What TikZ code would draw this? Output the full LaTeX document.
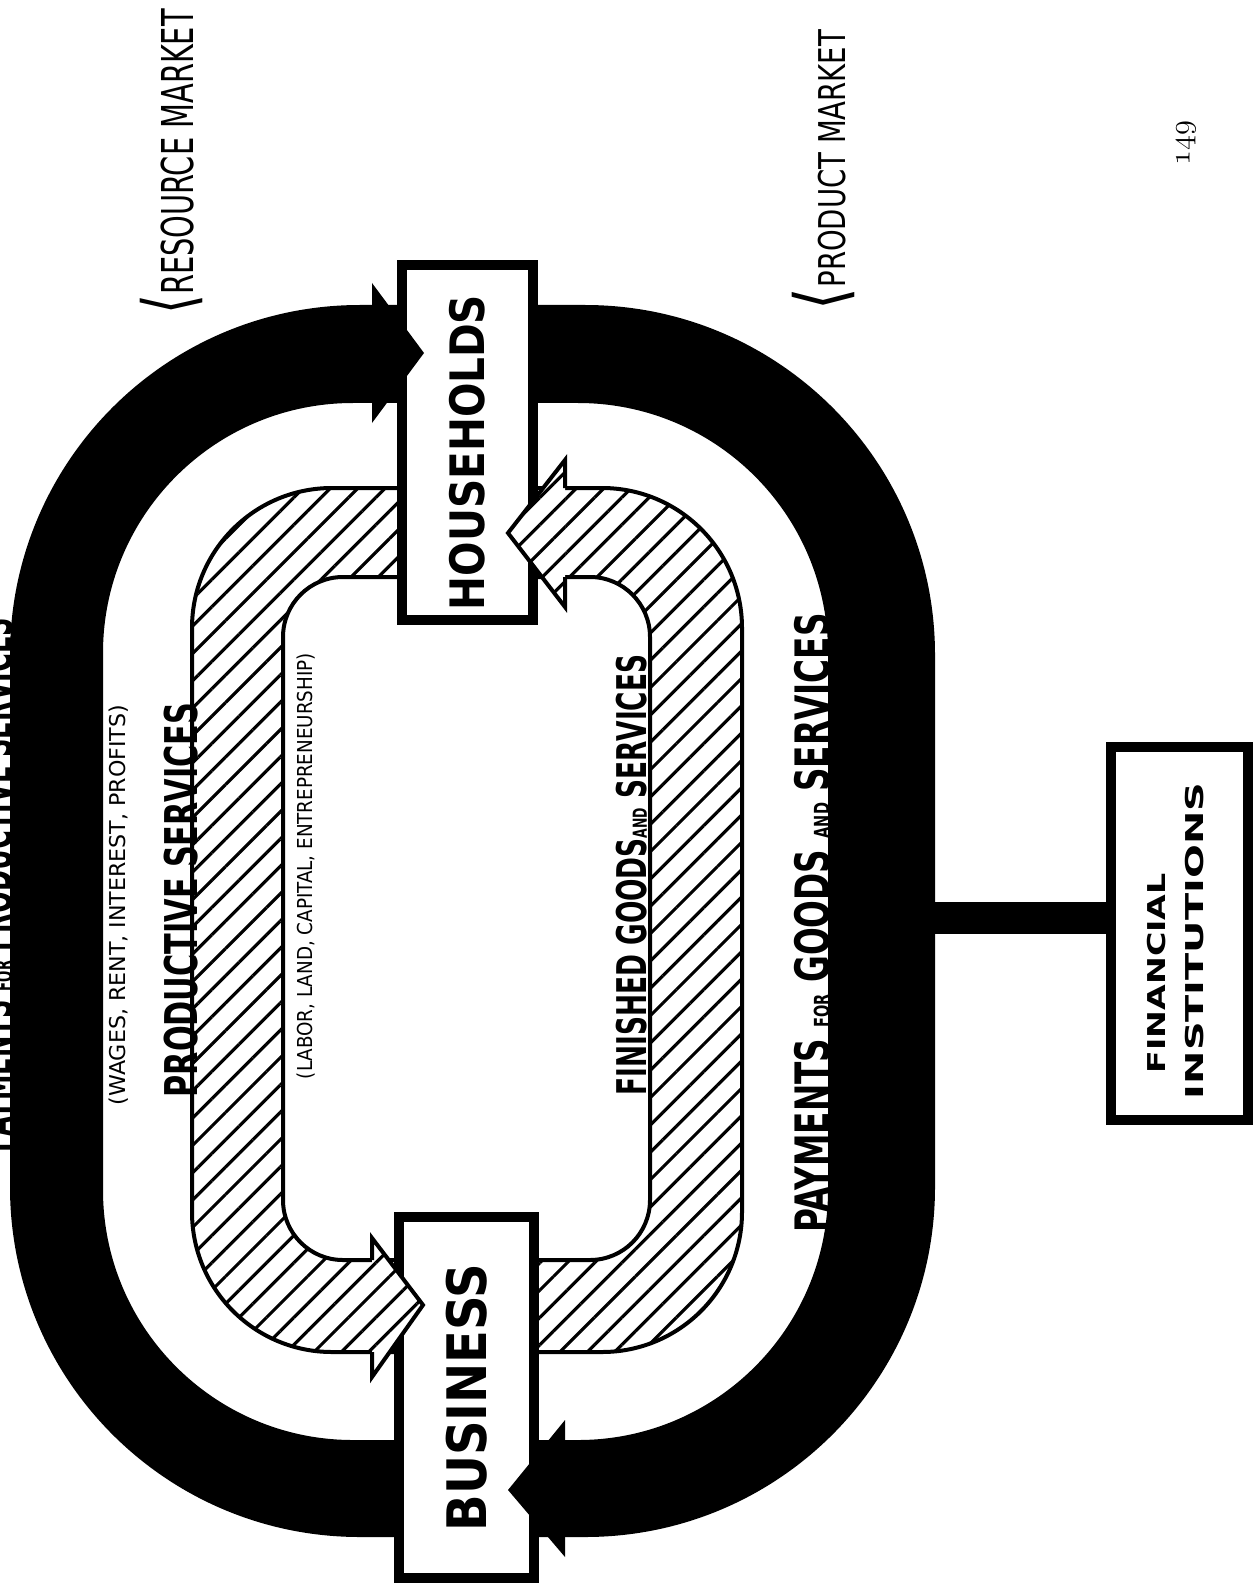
\documentclass[tikz,border=0pt]{standalone}
\usepackage{fontspec}
\usepackage{graphicx}
\usetikzlibrary{patterns.meta}
\newfontfamily\handfont{DejaVu Sans Condensed}
\newfontfamily\bracefont{DejaVu Sans}
\newcommand{\squeeze}[2]{\scalebox{#1}[1]{#2}}
\newcommand{\fs}[1]{\fontsize{#1}{#1}\selectfont}
\newcommand{\mkt}[1]{{\bracefont\fs{40}⟨}#1}

\begin{document}
\begin{tikzpicture}[x=0.02cm,y=-0.02cm,
  sector/.style={draw,line width=0.2cm,fill=white,inner sep=0pt,font=\handfont\bfseries},
  hatched/.style={pattern={Lines[angle=45,distance=11pt,line width=1.8pt]}},
  lettering/.style={rotate=90,inner sep=0pt,font=\handfont}]
\fill[white] (0,0) rectangle (1258,1584);
\useasboundingbox (0,0) rectangle (1258,1584);
\clip (0,0) rectangle (1258,1584);
\fill[even odd rule,rounded corners=7cm] (10,305) rectangle (935,1537)
  [rounded corners=5cm] (103,403) rectangle (828,1440);
\path[hatched,even odd rule,draw,line width=0.08cm,rounded corners=2.8cm] (192,488) rectangle (742,1352)
  [rounded corners=1.2cm] (283,577) rectangle (650,1260);
\node[sector,minimum width=2.62cm,minimum height=7.1cm] (households) at (467.5,442.5)
  {\rotatebox{90}{\fs{27}\squeeze{0.95}{HOUSEHOLDS}\hspace*{0.4cm}}};
\node[sector,minimum width=2.7cm,minimum height=7.22cm] (business) at (466.5,1397.5)
  {\rotatebox{90}{\fs{31}\squeeze{0.98}{BUSINESS}}};
\node[sector,minimum width=2.74cm,minimum height=7.46cm] (banks) at (1179.5,933.5)
  {\rotatebox{90}{\fs{14}\begin{tabular}{@{}l@{}}\hspace{0.52cm}\squeeze{1.5}{FINANCIAL}\\[7pt]\squeeze{1.8}{INSTITUTIONS}\end{tabular}\hspace*{0.3cm}}};
\fill (372,283) -- (424,353) -- (372,423) -- cycle;
\fill (565,1420) -- (508,1490) -- (565,1557) -- cycle;
\path[hatched,preaction={fill=white},draw,line width=0.08cm] (565,488) -- (565,460) -- (508,533) -- (565,607) -- (565,577);
\path[hatched,preaction={fill=white},draw,line width=0.08cm] (372,1260) -- (372,1238) -- (423,1305) -- (372,1377) -- (372,1352);
\coordinate (ring east) at (925,918);
\draw[line width=0.64cm] (ring east) -- (ring east -| banks.west);
\node[lettering,font=\handfont\bfseries] (title) at (-5,885)
  {\fs{27}\squeeze{0.6}{PAYMENTS {\fs{14}FOR} PRODUCTIVE SERVICES}};
\node[lettering] (wages) at (119,905) {\fs{12.4}\squeeze{1.13}{(WAGES, RENT, INTEREST, PROFITS)}};
\node[lettering,font=\handfont\bfseries] (productive) at (181,900) {\fs{25.7}\squeeze{0.745}{PRODUCTIVE SERVICES}};
\node[lettering] (factors) at (306,866) {\fs{11.7}\squeeze{0.99}{(LABOR, LAND, CAPITAL, ENTREPRENEURSHIP)}};
\node[lettering,font=\handfont\bfseries] (goods) at (632,875) {\fs{23.3}\squeeze{0.716}{FINISHED GOODS{\fs{11}AND} SERVICES}};
\node[lettering,font=\handfont\bfseries] (payments) at (812,923) {\fs{27}\squeeze{0.765}{PAYMENTS {\fs{12}FOR} GOODS {\fs{12}AND} SERVICES}};
\node[lettering] (resource) at (171,162) {\fs{25}\squeeze{0.73}{\mkt{RESOURCE MARKET}}};
\node[lettering] (product) at (823,170) {\fs{21}\squeeze{0.83}{\mkt{PRODUCT MARKET}}};
\node[rotate=90,inner sep=0pt] (page) at (1186,143) {\fontsize{18}{18}\usefont{OML}{cmm}{m}{it}149};
\end{tikzpicture}
\end{document}
